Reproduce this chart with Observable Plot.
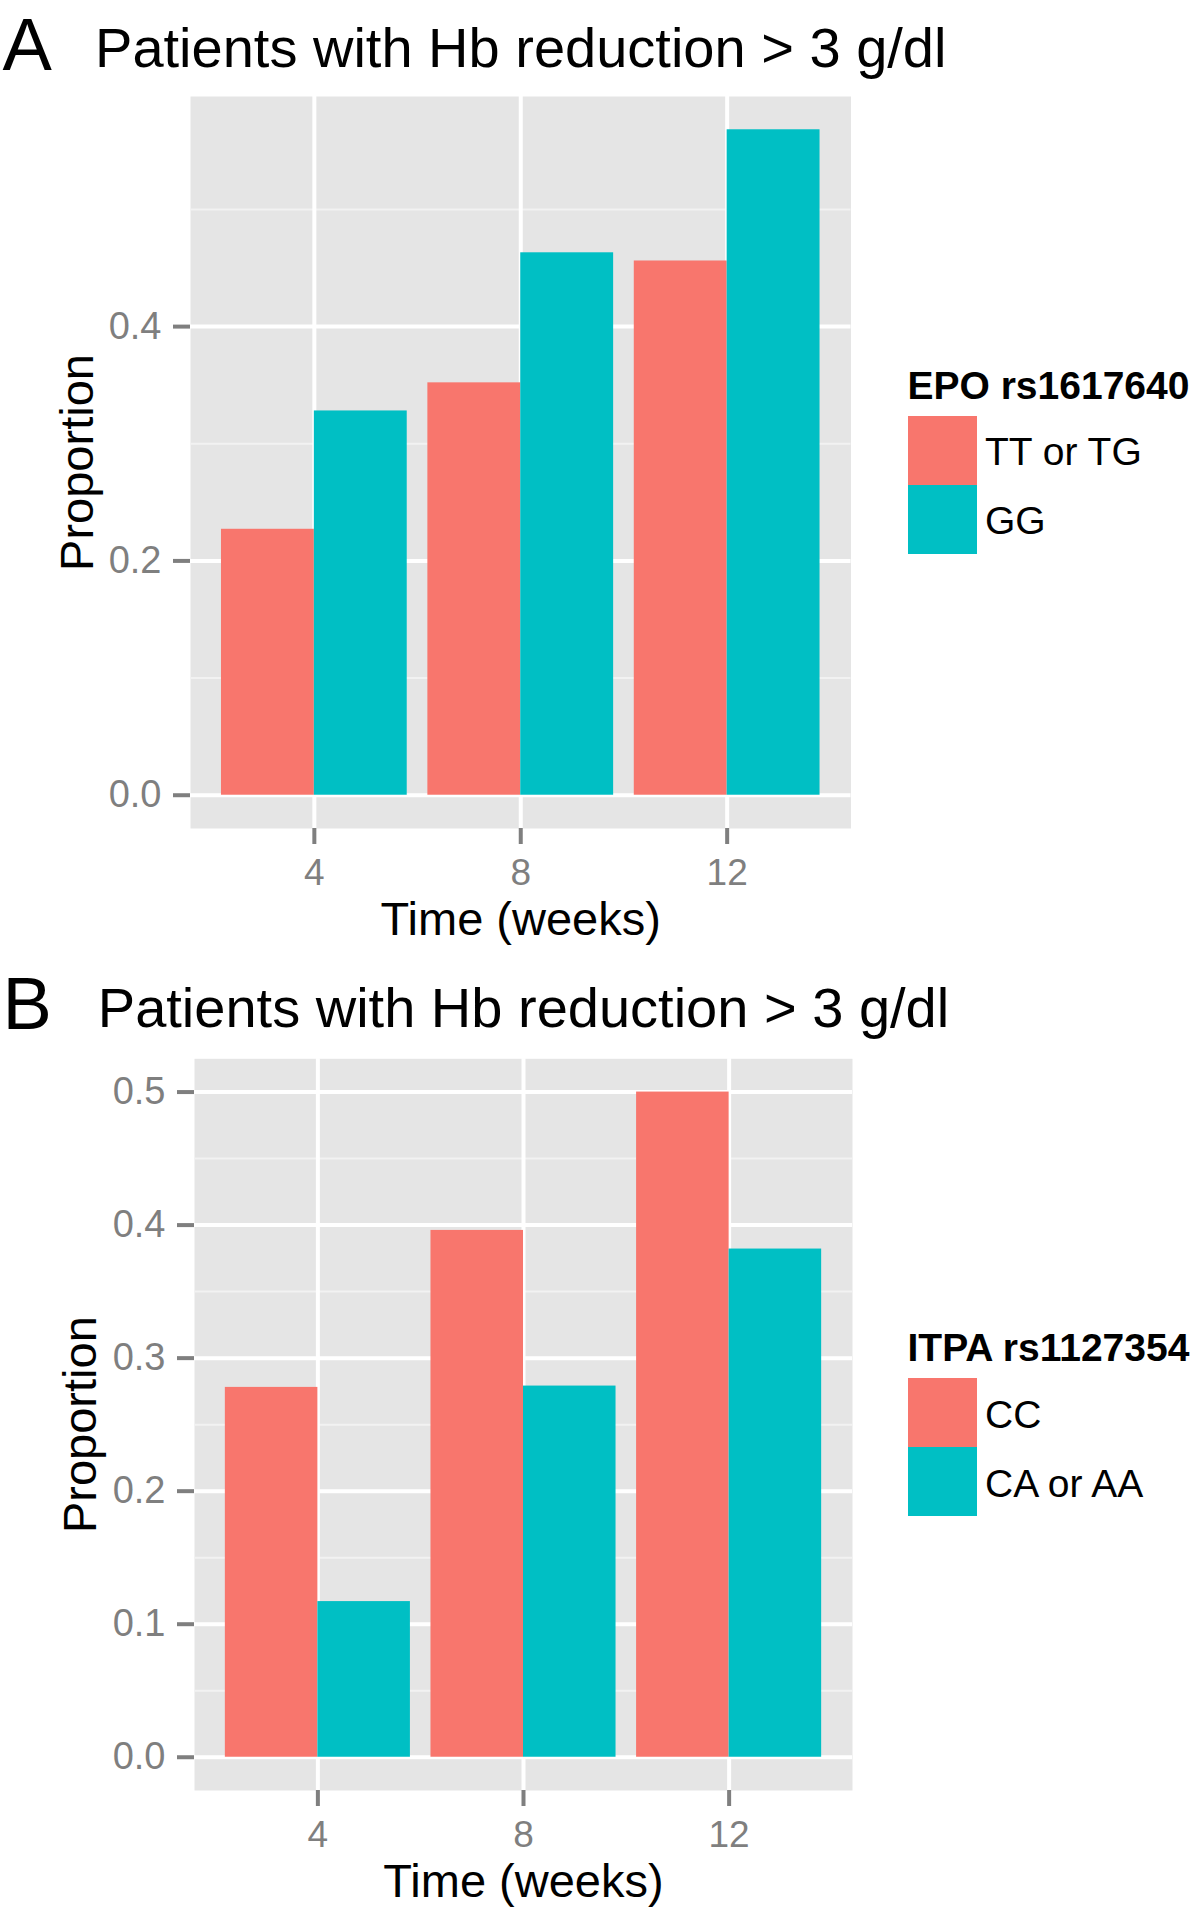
<!DOCTYPE html>
<html>
<head>
<meta charset="utf-8">
<script src="https://cdn.jsdelivr.net/npm/d3@7"></script>
<script src="https://cdn.jsdelivr.net/npm/@observablehq/plot@0.6"></script>
<style>
  html, body { margin: 0; padding: 0; background: #ffffff; }
  #page { position: relative; width: 1200px; height: 1907px; overflow: hidden;
          font-family: "Liberation Sans", Arial, Helvetica, sans-serif; }
  .abs { position: absolute; line-height: 1; white-space: nowrap; }
  .plotwrap { position: absolute; left: 0; }
</style>
</head>
<body>
<div id="page"></div>
<script>
// ---------- data ----------
const times = [4, 8, 12];
const titleText = "Patients with Hb reduction > 3 g/dl";
const xLabel = "Time (weeks)";
const yLabel = "Proportion";

const epoLetter = "A";
const epoTitle = "EPO rs1617640";
const epoGroups = ["TT or TG", "GG"];
const epoTTorTG = [0.227, 0.352, 0.456];
const epoGG = [0.328, 0.463, 0.568];
const epoTicks = [0, 0.2, 0.4];
const epoMinor = [0.1, 0.3, 0.5];

const itpaLetter = "B";
const itpaTitle = "ITPA rs1127354";
const itpaGroups = ["CC", "CA or AA"];
const itpaCC = [0.278, 0.396, 0.500];
const itpaCAorAA = [0.117, 0.279, 0.382];
const itpaTicks = [0, 0.1, 0.2, 0.3, 0.4, 0.5];
const itpaMinor = [0.05, 0.15, 0.25, 0.35, 0.45];

const groupColors = ["#F8766D", "#00BFC4"];

// ---------- layout / style ----------
const FONT = '"Liberation Sans", Arial, Helvetica, sans-serif';
const GREY = "#7F7F7F";
const layoutA = { svgTop: 0, height: 960, mL: 190, mT: 96, mB: 132, right: 850.5,
                  titleBase: 66, letterBase: 69, yLabBase: 92 };
const layoutB = { svgTop: 960, height: 947, mL: 194, mT: 98.3, mB: 117, right: 852,
                  titleBase: 1026.7, letterBase: 1028, yLabBase: 95 };

const page = document.getElementById("page");

function absText(txt, left, baseline, size, weight) {
  const d = document.createElement("div");
  d.className = "abs";
  d.textContent = txt;
  d.style.left = left + "px";
  d.style.top = (baseline - 0.8467 * size) + "px";
  d.style.fontSize = size + "px";
  d.style.fontWeight = weight || "normal";
  d.style.color = "#000";
  page.appendChild(d);
}

function panel(L, letter, legendTitle, groups, series, ticks, minor) {
  const step = times[1] - times[0];
  const half = 0.45 * step;
  const rows = [];
  series.forEach((vals, s) => vals.forEach((v, i) =>
    rows.push({ time: times[i], group: groups[s], s, value: v })));
  const maxV = d3.max(rows, d => d.value);
  const frameBottom = L.height - L.mB;

  const chart = Plot.plot({
    width: 1200,
    height: L.height,
    marginLeft: L.mL,
    marginTop: L.mT,
    marginBottom: L.mB,
    marginRight: 1200 - L.right,
    style: { fontFamily: FONT, fontSize: "38px", background: "transparent", overflow: "visible" },
    x: { domain: [times[0] - 0.6 * step, times[times.length - 1] + 0.6 * step] },
    y: { domain: [-0.05 * maxV, 1.05 * maxV] },
    color: { domain: groups, range: groupColors },
    marks: [
      Plot.frame({ fill: "#E5E5E5", stroke: "none" }),
      Plot.ruleY(minor, { stroke: "#F2F2F2", strokeWidth: 2 }),
      Plot.ruleY(ticks, { stroke: "#FFFFFF", strokeWidth: 4 }),
      Plot.ruleX(times, { stroke: "#FFFFFF", strokeWidth: 4 }),
      Plot.rect(rows, {
        x1: d => d.time - half + d.s * half,
        x2: d => d.time + d.s * half,
        y1: 0, y2: "value", fill: "group"
      }),
      Plot.axisY({ ticks, tickFormat: d3.format(".1f"), tickSize: 17, tickPadding: 12,
                   fontSize: 38, color: GREY, strokeWidth: 4, label: null }),
      Plot.axisX({ ticks: times, tickFormat: d3.format("d"), tickSize: 16, tickPadding: 14.3,
                   fontSize: 37, color: GREY, strokeWidth: 4, label: null }),
      Plot.text([xLabel], { text: d => d, frameAnchor: "bottom", textAnchor: "middle", lineAnchor: "bottom",
                            dy: 106, fontSize: 47, fill: "#000" }),
      Plot.text([yLabel], { text: d => d, frameAnchor: "left", textAnchor: "middle", lineAnchor: "bottom",
                            rotate: -90, dx: L.yLabBase - L.mL, fontSize: 47, fill: "#000" }),
      Plot.text([titleText], { text: d => d, frameAnchor: "top", textAnchor: "middle", lineAnchor: "bottom",
                               dy: L.titleBase - L.svgTop - L.mT, fontSize: 56, fill: "#000" }),
      Plot.text([letter], { text: d => d, frameAnchor: "top-left", textAnchor: "start", lineAnchor: "bottom",
                            dx: 2 - L.mL, dy: L.letterBase - L.svgTop - L.mT, fontSize: 74, fill: "#000" })
    ]
  });

  const wrap = document.createElement("div");
  wrap.className = "plotwrap";
  wrap.style.top = L.svgTop + "px";
  wrap.appendChild(chart);
  page.appendChild(wrap);

  // legend (colours from the chart's own colour scale)
  const color = chart.scale("color");
  const cy = L.svgTop + (L.mT + frameBottom) / 2;
  const keyTop = cy - 45.8;
  const keySize = 69;
  absText(legendTitle, 907.5, cy - 62.8, 39, "bold");
  groups.forEach((g, s) => {
    const k = document.createElement("div");
    k.className = "abs";
    k.style.left = "908.3px";
    k.style.top = (keyTop + s * keySize) + "px";
    k.style.width = keySize + "px";
    k.style.height = keySize + "px";
    k.style.background = color.apply(g);
    page.appendChild(k);
    absText(g, 985, keyTop + 49.2 + s * keySize, 39, "normal");
  });
}

panel(layoutA, epoLetter, epoTitle, epoGroups, [epoTTorTG, epoGG], epoTicks, epoMinor);
panel(layoutB, itpaLetter, itpaTitle, itpaGroups, [itpaCC, itpaCAorAA], itpaTicks, itpaMinor);
</script>
</body>
</html>
